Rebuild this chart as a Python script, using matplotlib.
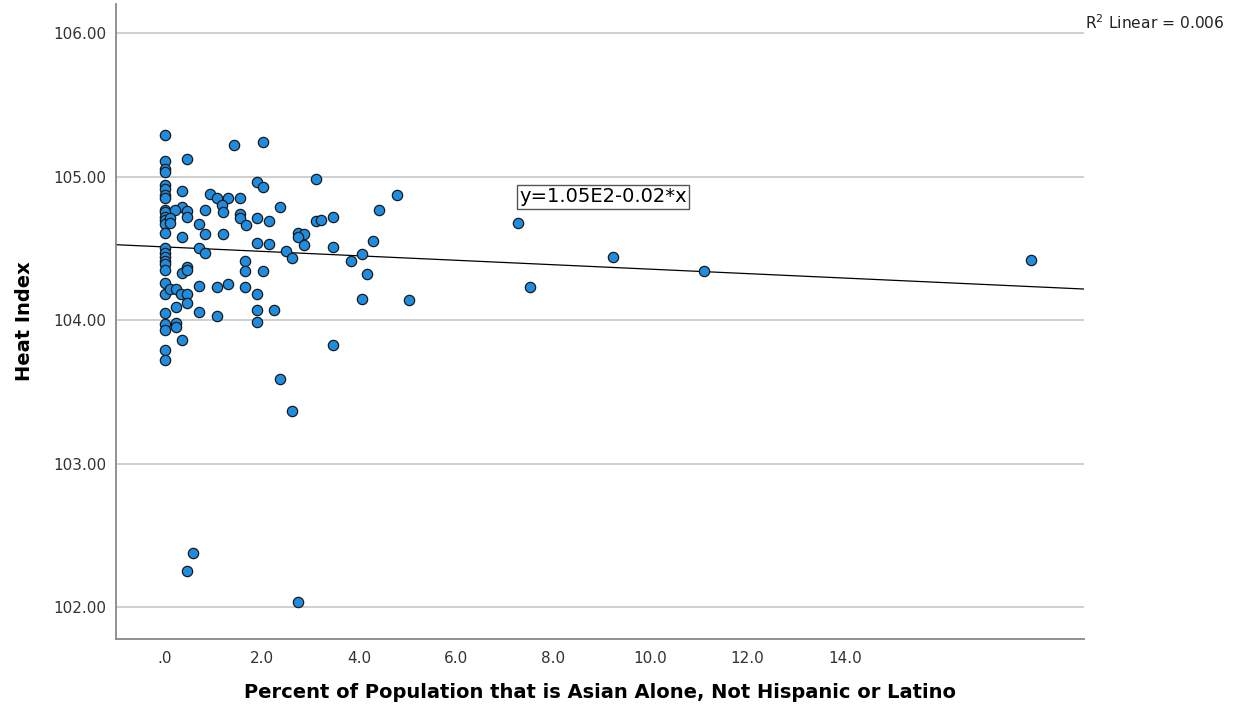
import numpy as np
import matplotlib.pyplot as plt
from matplotlib.ticker import FormatStrFormatter, FuncFormatter

# heat index of the counties with no Asian population
zero_heat = [105.29, 105.11, 105.05, 105.03, 104.94, 104.91, 104.87, 104.85,
             104.77, 104.75, 104.72, 104.70, 104.67, 104.61, 104.50, 104.47,
             104.44, 104.41, 104.39, 104.35, 104.26, 104.18, 104.05, 103.97,
             103.93, 103.79, 103.72]

# the remaining counties: percent Asian, heat index
pct_asian = [0.47, 1.43, 2.03, 1.90, 2.03, 0.35, 0.94, 1.07, 1.31, 1.55,
             1.19, 0.35, 0.22, 0.47, 0.83, 1.20, 0.47, 0.11, 0.11, 1.55,
             1.55, 1.67, 1.90, 2.15, 0.71, 0.83, 0.35, 1.20, 1.90, 2.15,
             0.71, 0.83, 1.66, 0.47, 0.35, 0.47, 1.66, 2.02, 0.11, 0.24,
             0.33, 0.47, 0.47, 0.71, 1.07, 1.31, 1.66, 1.90, 0.24, 0.71,
             1.07, 1.90, 1.90, 0.24, 0.24, 0.35, 3.11, 4.78, 4.42, 2.38,
             3.11, 3.23, 3.46, 2.75, 2.87, 2.75, 2.87, 3.46, 4.30, 2.51,
             2.63, 4.06, 3.83, 4.17, 4.06, 5.03, 2.26, 3.46, 2.38, 2.62,
             0.59, 0.47, 2.75, 7.28, 7.53, 9.22, 11.11, 17.83]
heat = [105.12, 105.22, 105.24, 104.96, 104.93, 104.90, 104.88, 104.85, 104.85, 104.85,
        104.80, 104.79, 104.77, 104.76, 104.77, 104.75, 104.72, 104.71, 104.68, 104.74,
        104.71, 104.66, 104.71, 104.69, 104.67, 104.60, 104.58, 104.60, 104.54, 104.53,
        104.50, 104.47, 104.41, 104.37, 104.33, 104.35, 104.34, 104.34, 104.22, 104.22,
        104.18, 104.18, 104.12, 104.24, 104.23, 104.25, 104.23, 104.18, 104.09, 104.06,
        104.03, 104.07, 103.99, 103.98, 103.95, 103.86, 104.98, 104.87, 104.77, 104.79,
        104.69, 104.70, 104.72, 104.61, 104.60, 104.58, 104.52, 104.51, 104.55, 104.48,
        104.43, 104.46, 104.41, 104.32, 104.15, 104.14, 104.07, 103.83, 103.59, 103.37,
        102.38, 102.25, 102.04, 104.68, 104.23, 104.44, 104.34, 104.42]

# fit line (the full sample, many points hidden in the x=0 column)
fit_intercept = 104.51
fit_slope = -0.0155

x_ticks = [0, 2, 4, 6, 8, 10, 12, 14]
y_ticks = [102, 103, 104, 105, 106]

x = np.array([0.0] * len(zero_heat) + pct_asian)
y = np.array(zero_heat + heat)

fig = plt.figure(figsize=(12.4, 7.17), dpi=100)
ax = fig.add_axes([0.0935, 0.109, 0.7806, 0.885])

ax.set_xlim(-1.0, 18.92)
ax.set_ylim(101.78, 106.2)

ax.set_yticks(y_ticks)
ax.set_xticks(x_ticks)
ax.yaxis.set_major_formatter(FormatStrFormatter('%.2f'))
ax.xaxis.set_major_formatter(FuncFormatter(lambda v, p: '.0' if v == 0 else '%.1f' % v))
ax.tick_params(length=0, labelsize=11, colors='#333333')
ax.tick_params(axis='y', pad=7)
ax.tick_params(axis='x', pad=9)

ax.grid(axis='y', color='#cccccc', lw=1.3)
ax.set_axisbelow(True)
for s in ['top', 'right']:
    ax.spines[s].set_visible(False)
for s in ['left', 'bottom']:
    ax.spines[s].set_color('#888888')
    ax.spines[s].set_linewidth(1.3)

xl = np.array(ax.get_xlim())
ax.plot(xl, fit_intercept + fit_slope * xl, color='black', lw=0.9, zorder=2)

ax.scatter(x, y, s=55, c='#1f8ddf', edgecolors='#1a1a1a', linewidths=0.9, zorder=3)

ax.text(7.3, 104.86, 'y=1.05E2-0.02*x', fontsize=14, va='center', ha='left',
        bbox=dict(boxstyle='square,pad=0.12', fc='white', ec='#555555', lw=1))

fig.text(0.875, 0.969, 'R$^2$ Linear = 0.006', fontsize=11.2, color='#222222', va='center')

ax.set_ylabel('Heat Index', fontsize=14, fontweight='bold', labelpad=14)
ax.set_xlabel('Percent of Population that is Asian Alone, Not Hispanic or Latino',
              fontsize=14, fontweight='bold', labelpad=12)

fig.savefig('out.png', dpi=100)
